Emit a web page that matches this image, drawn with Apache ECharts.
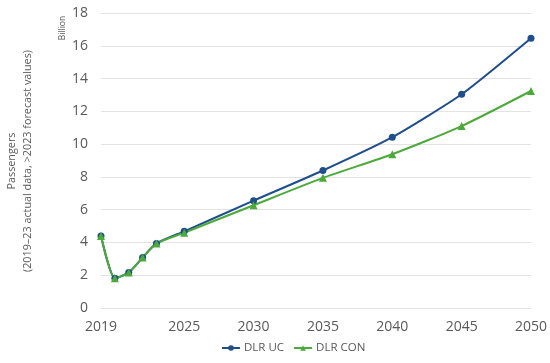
<!DOCTYPE html>
<html><head><meta charset="utf-8">
<script src="https://cdn.jsdelivr.net/npm/echarts@6/dist/echarts.min.js"></script>
<style>html,body{margin:0;padding:0;background:#fff}#c{width:550px;height:363px}</style>
</head><body><div id="c"></div>
<script>
const years = [2019, 2020, 2021, 2022, 2023, 2025, 2030, 2035, 2040, 2045, 2050];
const dlrUC = [4.39, 1.81, 2.16, 3.08, 3.94, 4.68, 6.55, 8.39, 10.42, 13.04, 16.46];
const dlrCON = [4.39, 1.81, 2.16, 3.08, 3.94, 4.59, 6.27, 7.94, 9.38, 11.1, 13.24];
const xTickLabels = [2019, 2025, 2030, 2035, 2040, 2045, 2050];
const seriesNames = ['DLR UC', 'DLR CON'];

const chart = echarts.init(document.getElementById('c'));
const font = 'Open Sans, Noto Sans, sans-serif';
const grey = '#595959';
chart.setOption({
  animation: false,
  textStyle: {fontFamily: font},
  grid: {left: 101, right: 13, top: 13, bottom: 55},
  xAxis: {
    type: 'value', min: 2019, max: 2050, interval: 1,
    axisLine: {show: false}, axisTick: {show: false}, splitLine: {show: false},
    axisLabel: {
      color: grey, fontSize: 14, fontFamily: font, margin: 12, showMinLabel: true, showMaxLabel: true,
      formatter: v => xTickLabels.includes(v) ? String(v) : ''
    }
  },
  yAxis: {
    type: 'value', min: 0, max: 18, interval: 2,
    axisLine: {show: false}, axisTick: {show: false},
    splitLine: {lineStyle: {color: '#e3e3e3', width: 1}},
    axisLabel: {color: grey, fontSize: 14, fontFamily: font, margin: 13}
  },
  legend: {
    bottom: 4, left: 216, itemGap: 9, itemWidth: 18, itemHeight: 7,
    textStyle: {color: grey, fontSize: 11.5, fontFamily: font, padding: [0, 0, 0, -1]},
    data: seriesNames
  },
  graphic: [{
    type: 'text', rotation: Math.PI / 2, x: 20, y: 161,
    style: {text: 'Passengers\n(2019–23 actual data, >2023 forecast values)', fill: grey, fontSize: 10.8, fontFamily: font, align: 'center', verticalAlign: 'middle', lineHeight: 16}
  }, {
    type: 'text', rotation: Math.PI / 2, x: 63, y: 28,
    style: {text: 'Billion', fill: grey, fontSize: 8.5, fontFamily: font, align: 'center', verticalAlign: 'middle'}
  }],
  series: [
    {name: seriesNames[0], type: 'line', smooth: 0.2, data: years.map((y, i) => [y, dlrUC[i]]),
     symbol: 'circle', symbolSize: 7, lineStyle: {color: '#1f4e8c', width: 2}, itemStyle: {color: '#1f4e8c'}},
    {name: seriesNames[1], type: 'line', smooth: 0.2, data: years.map((y, i) => [y, dlrCON[i]]),
     symbol: 'triangle', symbolSize: 8, lineStyle: {color: '#4caa3a', width: 2}, itemStyle: {color: '#4caa3a'}}
  ]
});
</script></body></html>
